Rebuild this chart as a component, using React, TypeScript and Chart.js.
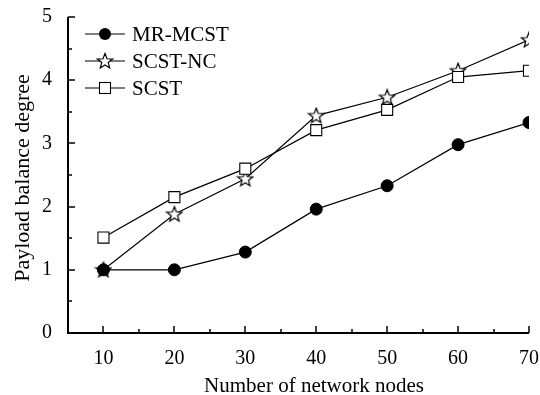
import React, { useEffect, useRef } from "react";
import { Chart, registerables } from "chart.js";

Chart.register(...registerables);

const nodes = [10, 20, 30, 40, 50, 60, 70];
const mrMcst = [1.0, 1.0, 1.28, 1.96, 2.33, 2.98, 3.33];
const scstNc = [1.0, 1.88, 2.44, 3.44, 3.73, 4.15, 4.64];
const scst = [1.51, 2.15, 2.6, 3.21, 3.53, 4.05, 4.15];
const seriesNames = ["MR-MCST", "SCST-NC", "SCST"];
const xTitle = "Number of network nodes";
const yTitle = "Payload balance degree";
const xTicks = [10, 20, 30, 40, 50, 60, 70];
const xMinorTicks = [15, 25, 35, 45, 55, 65];
const yTicks = [0, 1, 2, 3, 4, 5];
const yMinorTicks = [0.5, 1.5, 2.5, 3.5, 4.5];

const FONT = "'Liberation Serif', 'Times New Roman', serif";

function makeStar(): HTMLCanvasElement {
  const c = document.createElement("canvas");
  c.width = 18;
  c.height = 18;
  const g = c.getContext("2d")!;
  const cx = 9, cy = 9.5, ro = 8, ri = 3.4;
  g.beginPath();
  for (let i = 0; i < 10; i++) {
    const r = i % 2 === 0 ? ro : ri;
    const a = -Math.PI / 2 + (i * Math.PI) / 5;
    const px = cx + r * Math.cos(a);
    const py = cy + r * Math.sin(a);
    if (i === 0) g.moveTo(px, py);
    else g.lineTo(px, py);
  }
  g.closePath();
  g.fillStyle = "#fff";
  g.fill();
  g.strokeStyle = "#000";
  g.lineWidth = 1.2;
  g.stroke();
  return c;
}

export default function App() {
  const ref = useRef<HTMLCanvasElement>(null);
  useEffect(() => {
    document.body.style.margin = "0";
    const star = makeStar();
    const toPts = (arr: number[]) => nodes.map((x, i) => ({ x, y: arr[i] }));

    const axesPlugin = {
      id: "axesTicks",
      afterDatasetsDraw(chart: any) {
        const { ctx, chartArea, scales } = chart;
        const xs = scales.x, ys = scales.y;
        ctx.save();
        ctx.strokeStyle = "#000";
        ctx.lineWidth = 2;
        ctx.beginPath();
        ctx.moveTo(chartArea.left, chartArea.top);
        ctx.lineTo(chartArea.left, chartArea.bottom);
        ctx.lineTo(chartArea.right, chartArea.bottom);
        ctx.stroke();
        ctx.lineWidth = 1.5;
        ctx.beginPath();
        xTicks.forEach((v) => {
          const p = Math.round(xs.getPixelForValue(v));
          ctx.moveTo(p, chartArea.bottom);
          ctx.lineTo(p, chartArea.bottom - 7);
        });
        xMinorTicks.forEach((v) => {
          const p = Math.round(xs.getPixelForValue(v));
          ctx.moveTo(p, chartArea.bottom);
          ctx.lineTo(p, chartArea.bottom - 4);
        });
        yTicks.forEach((v) => {
          const p = Math.round(ys.getPixelForValue(v));
          ctx.moveTo(chartArea.left, p);
          ctx.lineTo(chartArea.left + 7, p);
        });
        yMinorTicks.forEach((v) => {
          const p = Math.round(ys.getPixelForValue(v));
          ctx.moveTo(chartArea.left, p);
          ctx.lineTo(chartArea.left + 4, p);
        });
        ctx.stroke();

        // axis titles
        ctx.fillStyle = "#000";
        ctx.textAlign = "center";
        ctx.textBaseline = "middle";
        ctx.font = `21px ${FONT}`;
        ctx.fillText(xTitle, 314, 386);
        ctx.save();
        ctx.translate(23, 178);
        ctx.rotate(-Math.PI / 2);
        ctx.font = `22px ${FONT}`;
        ctx.fillText(yTitle, 0, 0);
        ctx.restore();

        // legend
        const rows = [34, 61, 88];
        const lx0 = 85, lx1 = 125, mx = 105;
        ctx.font = `21px ${FONT}`;
        ctx.textBaseline = "middle";
        ctx.textAlign = "left";
        rows.forEach((y, i) => {
          ctx.strokeStyle = "#000";
          ctx.lineWidth = 1.2;
          ctx.beginPath();
          ctx.moveTo(lx0, y);
          ctx.lineTo(lx1, y);
          ctx.stroke();
          if (i === 0) {
            ctx.fillStyle = "#000";
            ctx.beginPath();
            ctx.arc(mx, y, 6, 0, Math.PI * 2);
            ctx.fill();
          } else if (i === 1) {
            ctx.drawImage(star, mx - star.width / 2, y - star.height / 2);
          } else {
            ctx.fillStyle = "#fff";
            ctx.fillRect(mx - 5.5, y - 5.5, 11, 11);
            ctx.lineWidth = 1.1;
            ctx.strokeRect(mx - 5.5, y - 5.5, 11, 11);
          }
          ctx.fillStyle = "#000";
          ctx.fillText(seriesNames[i], 132, y + 1);
        });
        ctx.restore();
      },
    };

    const chart = new Chart(ref.current!, {
      type: "line",
      data: {
        datasets: [
          {
            label: seriesNames[0],
            data: toPts(mrMcst),
            borderColor: "#000",
            borderWidth: 1.2,
            backgroundColor: "#000",
            pointStyle: "circle",
            pointRadius: 6,
            pointBorderWidth: 1,
            pointBorderColor: "#000",
            pointBackgroundColor: "#000",
          },
          {
            label: seriesNames[2],
            data: toPts(scst),
            borderColor: "#000",
            borderWidth: 1.2,
            pointStyle: "rect",
            pointRadius: 7.8,
            pointBorderWidth: 1.1,
            pointBorderColor: "#000",
            pointBackgroundColor: "#fff",
          },
          {
            label: seriesNames[1],
            data: toPts(scstNc),
            borderColor: "#000",
            borderWidth: 1.2,
            pointStyle: star as any,
            pointRadius: 8,
            pointBorderColor: "#000",
            pointBackgroundColor: "#fff",
          },
        ],
      },
      options: {
        animation: false,
        responsive: false,
        maintainAspectRatio: false,
        layout: { padding: { left: 0, top: 17, right: 11, bottom: 0 } },
        plugins: { legend: { display: false }, tooltip: { enabled: false } },
        scales: {
          x: {
            type: "linear",
            min: 5,
            max: 70,
            grid: { display: false },
            border: { display: false },
            afterBuildTicks: (s: any) => {
              s.ticks = xTicks.map((v) => ({ value: v }));
            },
            afterFit: (s: any) => {
              s.height = 62;
              s.paddingRight = 0;
              s.paddingLeft = 0;
            },
            ticks: {
              color: "#000",
              padding: 6,
              maxRotation: 0,
              autoSkip: false,
              font: { family: FONT, size: 20 },
            },
            title: { display: false },
          },
          y: {
            type: "linear",
            min: 0,
            max: 5,
            grid: { display: false },
            border: { display: false },
            afterBuildTicks: (s: any) => {
              s.ticks = yTicks.map((v) => ({ value: v }));
            },
            afterFit: (s: any) => {
              s.width = 68;
              s.paddingTop = 0;
              s.paddingBottom = 0;
            },
            ticks: {
              color: "#000",
              padding: 8,
              font: { family: FONT, size: 20 },
            },
            title: { display: false },
          },
        },
      },
      plugins: [axesPlugin],
    });
    return () => chart.destroy();
  }, []);

  return (
    <div style={{ width: 540, height: 395, background: "#fff" }}>
      <canvas ref={ref} width={540} height={395} style={{ width: 540, height: 395 }} />
    </div>
  );
}
